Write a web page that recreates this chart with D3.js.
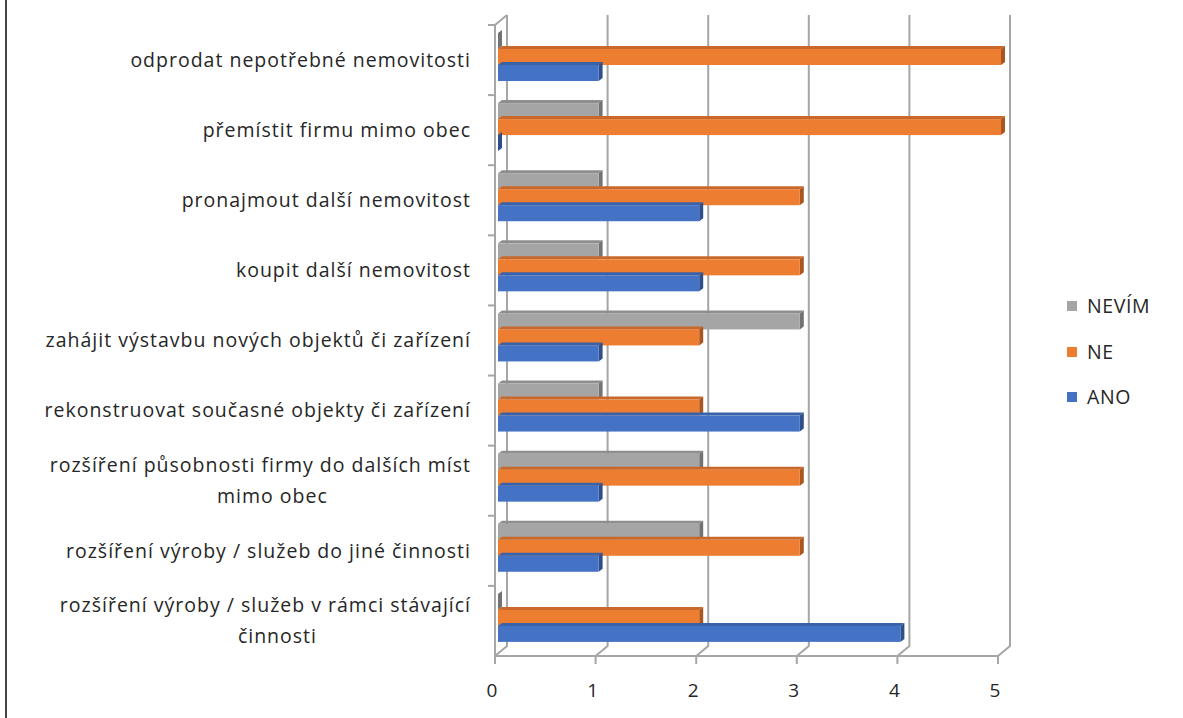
<!DOCTYPE html>
<html>
<head>
<meta charset="utf-8">
<script src="https://cdn.jsdelivr.net/npm/d3@7"></script>
<style>
  body { margin: 0; background: #fff; }
  text { font-family: "Open Sans", sans-serif; fill: #262626; }
</style>
</head>
<body>
<div id="chart"></div>
<script>
// categories from top to bottom
var categories = [
  "odprodat nepotřebné nemovitosti",
  "přemístit firmu mimo obec",
  "pronajmout další nemovitost",
  "koupit další nemovitost",
  "zahájit výstavbu nových objektů či zařízení",
  "rekonstruovat současné objekty či zařízení",
  "rozšíření působnosti firmy do dalších míst\nmimo obec",
  "rozšíření výroby / služeb do jiné činnosti",
  "rozšíření výroby / služeb v rámci stávající\nčinnosti"
];
var series = ["NEVÍM", "NE", "ANO"];
var nevim = [0, 1, 1, 1, 3, 1, 2, 2, 0];
var ne    = [5, 5, 3, 3, 2, 2, 3, 3, 2];
var ano   = [1, 0, 2, 2, 1, 3, 1, 1, 4];
var ticks = [0, 1, 2, 3, 4, 5];

var colors = {
  "NEVÍM": {face: "#a5a5a5", top: "#8e8e8e", side: "#737373"},
  "NE":    {face: "#ed7d31", top: "#c8682a", side: "#a95620"},
  "ANO":   {face: "#4472c4", top: "#3a62a8", side: "#2e4f8c"}
};

var W = 1183, H = 718;
var svg = d3.select("#chart").append("svg")
  .attr("width", W).attr("height", H);

// left border line
svg.append("line")
  .attr("x1", 6).attr("x2", 6).attr("y1", 0).attr("y2", H)
  .style("stroke", "#444").style("stroke-width", 2);

// front floor scale and depth offset of the back wall
var x = d3.scaleLinear().domain([0, 5]).range([495, 998]);
var depthX = 12, depthY = -10;
var floorY = 656, topY = 25;

var y = d3.scaleBand().domain(categories).range([topY, floorY]);
var ys = d3.scaleBand().domain(series).range([8, 56]);

var grid = "#a6a6a6";

// back wall gridlines with the floor diagonals
ticks.forEach(function(t) {
  svg.append("path")
    .attr("d", "M" + (x(t) + depthX) + "," + (topY + depthY) +
               "L" + (x(t) + depthX) + "," + (floorY + depthY) +
               "L" + x(t) + "," + floorY)
    .style("fill", "none").style("stroke", grid).style("stroke-width", 2);
});

// left wall front edge and top diagonal
svg.append("path")
  .attr("d", "M" + (x(0) + depthX) + "," + (topY + depthY) +
             "L" + x(0) + "," + topY + "L" + x(0) + "," + floorY +
             "L" + x(5) + "," + floorY)
  .style("fill", "none").style("stroke", grid).style("stroke-width", 2);

// category ticks on the left
categories.forEach(function(c) {
  svg.append("line")
    .attr("x1", x(0) - 7).attr("x2", x(0))
    .attr("y1", y(c)).attr("y2", y(c))
    .style("stroke", grid).style("stroke-width", 2);
});

// value ticks below floor
ticks.forEach(function(t) {
  svg.append("line")
    .attr("x1", x(t)).attr("x2", x(t))
    .attr("y1", floorY).attr("y2", floorY + 8)
    .style("stroke", grid).style("stroke-width", 2);
  svg.append("text")
    .attr("x", x(t) - 3).attr("y", 697)
    .attr("text-anchor", "middle")
    .style("font-size", "19px")
    .text(t);
});

// bars
var values = {"NEVÍM": nevim, "NE": ne, "ANO": ano};
var bx = function(v) { return x(v) + 3; };
var ex = 4, ey = -3;  // bar extrusion

categories.forEach(function(c, i) {
  series.forEach(function(s) {
    var v = values[s][i];
    var x0 = bx(0), x1 = bx(v);
    var y0 = y(c) + ys(s), h = ys.bandwidth();
    var col = colors[s];
    var g = svg.append("g");
    // top face
    g.append("path")
      .attr("d", "M" + x0 + "," + y0 + "L" + (x0 + ex) + "," + (y0 + ey) +
                 "L" + (x1 + ex) + "," + (y0 + ey) + "L" + x1 + "," + y0 + "Z")
      .style("fill", col.top);
    // right side
    g.append("path")
      .attr("d", "M" + x1 + "," + y0 + "L" + (x1 + ex) + "," + (y0 + ey) +
                 "L" + (x1 + ex) + "," + (y0 + h + ey) + "L" + x1 + "," + (y0 + h) + "Z")
      .style("fill", col.side);
    // front face
    g.append("rect")
      .attr("x", x0).attr("y", y0)
      .attr("width", Math.max(0, x1 - x0)).attr("height", h)
      .style("fill", col.face);
  });
});

// category labels
categories.forEach(function(c) {
  var lines = c.split("\n");
  var cy = y(c) + y.bandwidth() / 2;
  var t = svg.append("text")
    .attr("y", cy)
    .style("font-size", "19.5px")
    .style("letter-spacing", "1px");
  if (lines.length === 1) {
    t.attr("x", 471).attr("text-anchor", "end").attr("dy", "0.35em").text(c);
  } else {
    t.attr("text-anchor", "middle");
    var first = t.append("tspan").text(lines[0]);
    var wid = first.node().getComputedTextLength();
    var mid = 471 - wid / 2;
    first.attr("x", mid).attr("dy", "-0.45em");
    t.append("tspan").attr("x", mid + 12).attr("dy", "1.6em").text(lines[1]);
  }
});

// legend
var legY = {"NEVÍM": 306, "NE": 352, "ANO": 397};
series.forEach(function(s) {
  svg.append("rect")
    .attr("x", 1067).attr("y", legY[s] - 5)
    .attr("width", 10).attr("height", 10)
    .style("fill", colors[s].face);
  svg.append("text")
    .attr("x", 1087).attr("y", legY[s]).attr("dy", "0.35em")
    .style("font-size", "19.5px")
    .style("letter-spacing", "0.6px")
    .text(s);
});
</script>
</body>
</html>
